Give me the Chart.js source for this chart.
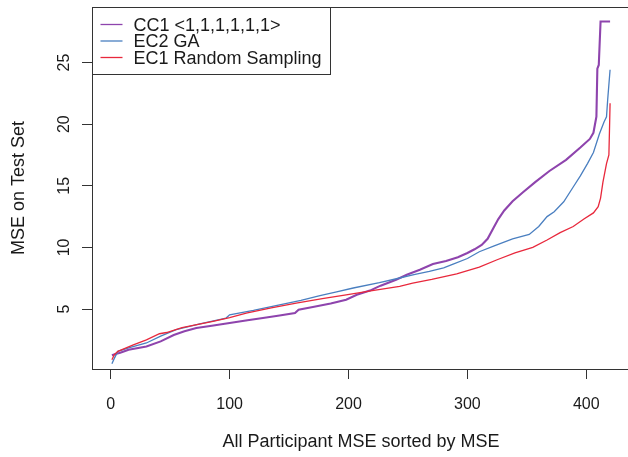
<!DOCTYPE html>
<html>
<head>
<meta charset="utf-8">
<title>MSE on Test Set</title>
<script src="https://cdn.jsdelivr.net/npm/chart.js@4/dist/chart.umd.min.js"></script>
<style>
  html, body { margin: 0; padding: 0; background: #fff; overflow: hidden; }
  #wrap { width: 634px; height: 457px; }
</style>
</head>
<body>
<div id="wrap"><canvas id="mseChart" width="634" height="457"></canvas></div>
<script>
// participant index (sorted by MSE) and MSE on the test set, per condition
const cc1X = [1, 4, 8, 15, 30, 42, 53, 62, 72, 85, 100, 115, 128, 142, 155, 158, 170, 185, 198, 207, 218, 227, 240, 249, 260, 271, 282, 292, 300, 306, 312, 317, 322, 326, 331, 338, 347, 357, 369, 383, 395, 403, 406, 408.5, 409.3, 410.5, 412, 420];
const cc1Y = [1.25, 1.35, 1.45, 1.7, 1.97, 2.38, 2.9, 3.2, 3.46, 3.65, 3.87, 4.1, 4.27, 4.48, 4.68, 4.95, 5.17, 5.45, 5.76, 6.16, 6.5, 6.9, 7.38, 7.79, 8.19, 8.65, 8.9, 9.2, 9.55, 9.85, 10.2, 10.7, 11.6, 12.3, 13.0, 13.75, 14.5, 15.3, 16.2, 17.1, 18.1, 18.8, 19.3, 20.6, 24.5, 24.8, 28.33, 28.33];

const ec2X = [1, 3, 6, 15, 30, 42, 55, 75, 97, 100, 120, 142, 160, 176, 190, 204, 226, 243, 255, 268, 280, 288, 300, 310, 322, 338, 352, 360, 367, 373, 381, 389, 395, 401, 406, 411, 415, 417, 418, 420];
const ec2Y = [0.57, 1.0, 1.57, 1.85, 2.25, 2.8, 3.33, 3.8, 4.27, 4.54, 4.9, 5.35, 5.7, 6.1, 6.4, 6.71, 7.14, 7.52, 7.8, 8.05, 8.35, 8.65, 9.1, 9.65, 10.1, 10.7, 11.05, 11.7, 12.5, 12.9, 13.7, 14.9, 15.8, 16.8, 17.7, 19.2, 20.2, 20.6, 22.0, 24.41];

const ec1X = [1, 3, 6, 19, 30, 41, 47, 60, 86, 100, 114, 135, 156, 178, 198, 220, 243, 254, 270, 291, 310, 325, 340, 355, 367, 378, 389, 398, 406, 410, 412, 414, 417, 419, 419.5, 420];
const ec1Y = [0.89, 1.3, 1.57, 2.1, 2.51, 3.0, 3.1, 3.5, 4.0, 4.3, 4.68, 5.1, 5.49, 5.85, 6.16, 6.5, 6.84, 7.1, 7.4, 7.85, 8.4, 9.0, 9.55, 10.0, 10.6, 11.2, 11.7, 12.3, 12.8, 13.3, 14.0, 15.3, 16.8, 17.5, 19.5, 21.7];

const seriesNames = ["CC1 <1,1,1,1,1,1>", "EC2 GA", "EC1 Random Sampling"];
const xTicks = [0, 100, 200, 300, 400];
const yTicks = [5, 10, 15, 20, 25];

const FONT = '"Liberation Sans", Arial, Helvetica, sans-serif';
const INK = "#1a1a1a";

const pts = (xs, ys) => xs.map((x, i) => ({ x: x, y: ys[i] }));

// box, rotated y labels, axis titles and the legend, R style
const frameAndText = {
  id: "frameAndText",
  afterDraw(chart) {
    const { ctx, chartArea: a, scales } = chart;
    const y = scales.y;
    ctx.save();

    ctx.strokeStyle = "#333";
    ctx.lineWidth = 1;
    ctx.strokeRect(Math.round(a.left) + 0.5, Math.round(a.top) + 0.5,
      Math.round(a.right - a.left), Math.round(a.bottom - a.top));

    ctx.fillStyle = INK;
    ctx.font = "16px " + FONT;
    ctx.textAlign = "center";
    ctx.textBaseline = "alphabetic";
    yTicks.forEach(v => {
      ctx.save();
      ctx.translate(69, y.getPixelForValue(v));
      ctx.rotate(-Math.PI / 2);
      ctx.fillText(String(v), 0, 0);
      ctx.restore();
    });

    ctx.font = "18px " + FONT;
    ctx.save();
    ctx.translate(24, (a.top + a.bottom) / 2);
    ctx.rotate(-Math.PI / 2);
    ctx.fillText("MSE on Test Set", 0, 0);
    ctx.restore();
    ctx.fillText("All Participant MSE sorted by MSE", (a.left + a.right) / 2, 446.5);

    // legend
    const ds = chart.data.datasets;
    const textW = Math.max(...ds.map(d => ctx.measureText(d.label).width));
    const bx = Math.round(a.left) + 0.5, by = Math.round(a.top) + 0.5;
    const bw = Math.round(41 + textW + 9), bh = 67;
    ctx.fillStyle = "#fff";
    ctx.fillRect(bx, by, bw, bh);
    ctx.strokeStyle = "#333";
    ctx.strokeRect(bx, by, bw, bh);
    ctx.textAlign = "left";
    ds.forEach((d, i) => {
      const cy = by + 17 + i * 16.5;
      ctx.strokeStyle = d.borderColor;
      ctx.lineWidth = 1.3;
      ctx.beginPath();
      ctx.moveTo(bx + 8, cy);
      ctx.lineTo(bx + 30, cy);
      ctx.stroke();
      ctx.fillStyle = INK;
      ctx.fillText(d.label, bx + 41, cy + 6.4);
    });
    ctx.restore();
  }
};

new Chart(document.getElementById("mseChart"), {
  type: "line",
  data: {
    datasets: [
      { label: seriesNames[0], data: pts(cc1X, cc1Y), borderColor: "#8E44AD", borderWidth: 2.1, order: 3 },
      { label: seriesNames[1], data: pts(ec2X, ec2Y), borderColor: "#4A7FC0", borderWidth: 1.3, order: 2 },
      { label: seriesNames[2], data: pts(ec1X, ec1Y), borderColor: "#E8283C", borderWidth: 1.3, order: 1 }
    ]
  },
  options: {
    responsive: false,
    animation: false,
    events: [],
    elements: { point: { radius: 0 }, line: { tension: 0, fill: false } },
    layout: { padding: { top: 7, right: 4, left: 0, bottom: 0 } },
    plugins: { legend: { display: false }, tooltip: { enabled: false } },
    scales: {
      x: {
        type: "linear",
        min: -15.76,
        max: 436.76,
        afterFit: s => { s.height = 88; },
        afterBuildTicks: s => { s.ticks = xTicks.map(v => ({ value: v })); },
        grid: { drawOnChartArea: false, drawTicks: true, tickLength: 10, color: "#333" },
        border: { display: false },
        ticks: { font: { family: FONT, size: 16 }, color: INK, padding: 16, maxRotation: 0, autoSkip: false }
      },
      y: {
        type: "linear",
        min: 0.14,
        max: 29.5,
        afterFit: s => { s.width = 92; },
        afterBuildTicks: s => { s.ticks = yTicks.map(v => ({ value: v })); },
        grid: { drawOnChartArea: false, drawTicks: true, tickLength: 10, color: "#333" },
        border: { display: false },
        ticks: { display: false }
      }
    }
  },
  plugins: [frameAndText]
});
</script>
</body>
</html>
